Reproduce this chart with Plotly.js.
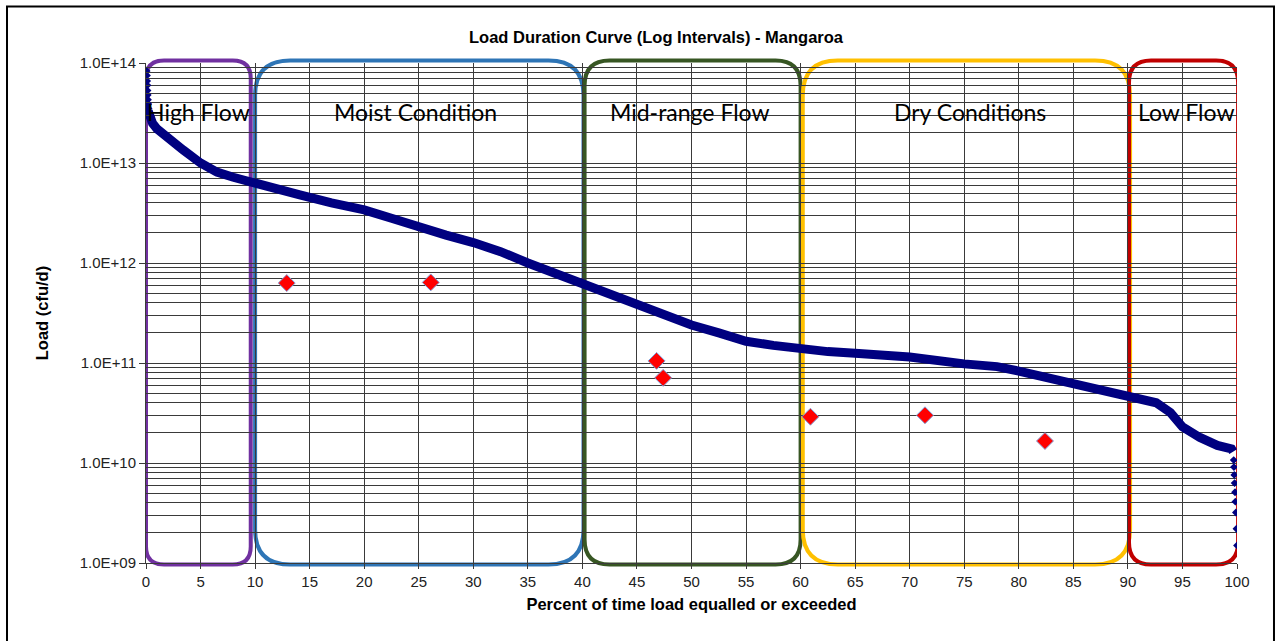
<!DOCTYPE html>
<html>
<head>
<meta charset="utf-8">
<script src="https://cdn.plot.ly/plotly-3.0.1.min.js"></script>
<style>html,body{margin:0;padding:0;background:#fff;}#chart{width:1277px;height:641px;}</style>
</head>
<body>
<div id="chart"></div>
<script>
// Load duration curve (percent exceedance, load cfu/d)
const curveX = [0.2, 0.3, 0.6, 1.0, 1.9, 3.4, 5.0, 6.5, 8.0, 9.8, 12.0, 14.1, 17.0, 20.0, 22.5, 25.0, 27.5, 30.0, 32.5, 35.0, 37.5, 40.0, 42.5, 45.0, 47.5, 50.0, 52.5, 55.0, 57.5, 60.0, 62.5, 65.0, 70.0, 75.0, 78.0, 80.0, 82.0, 85.0, 87.7, 90.0, 92.6, 93.9, 95.0, 96.6, 98.2, 99.5, 99.65];
const curveY = [3.3e13, 3.0e13, 2.5e13, 2.2e13, 1.8e13, 1.35e13, 1.0e13, 8.1e12, 7.2e12, 6.3e12, 5.5e12, 4.8e12, 4.0e12, 3.4e12, 2.8e12, 2.25e12, 1.9e12, 1.6e12, 1.3e12, 1.0e12, 7.9e11, 6.0e11, 4.8e11, 3.8e11, 3.0e11, 2.4e11, 2.0e11, 1.65e11, 1.5e11, 1.38e11, 1.3e11, 1.25e11, 1.15e11, 9.8e10, 9.2e10, 8.3e10, 7.4e10, 6.2e10, 5.2e10, 4.8e10, 4.0e10, 3.2e10, 2.3e10, 1.8e10, 1.5e10, 1.38e10, 1.3e10];
const headX = [0.0, 0.03, 0.05, 0.07, 0.08, 0.1, 0.12, 0.15, 0.18];
const headY = [8.3e13, 7.5e13, 6.6e13, 6.0e13, 5.3e13, 4.8e13, 4.3e13, 3.9e13, 3.5e13];
const tailX = [99.7, 99.72, 99.75, 99.78, 99.82, 99.85, 99.9, 99.95, 100.0];
const tailY = [1.07e10, 9.1e9, 7.6e9, 6.3e9, 5.1e9, 4.1e9, 3.2e9, 2.2e9, 1.5e9];

// Observed samples
const sampleX = [12.9, 26.1, 46.8, 47.4, 60.9, 71.4, 82.4];
const sampleY = [6.3e11, 6.4e11, 1.05e11, 7.1e10, 2.9e10, 3.0e10, 1.66e10];

// Y tick labels
const yTickVals = [1e9, 1e10, 1e11, 1e12, 1e13, 1e14];
const yTickText = ['1.0E+09', '1.0E+10', '1.0E+11', '1.0E+12', '1.0E+13', '1.0E+14'];

// Flow regimes
const zoneNames = ['High Flow', 'Moist Condition', 'Mid-range Flow', 'Dry Conditions', 'Low Flow'];
const zoneStart = [0, 10, 40.2, 60.2, 90.1];
const zoneEnd = [9.6, 40.1, 60, 90.2, 100.1];
const zoneColors = ['#7030A0', '#2E75B6', '#375623', '#FFC000', '#C00000'];
const zoneRadius = [18, 35, 25, 35, 22];
const zoneLabelX = [4.8, 24.7, 49.9, 75.5, 95.3];

const plotW = 1091, plotH = 500;
const minorVals = [];
for (let e = 9; e < 14; e++) for (let m = 2; m <= 9; m++) minorVals.push(m * Math.pow(10, e));

function roundRect(x0, x1, y0, y1, rpx) {
  const rx = rpx / plotW * 100, ry = rpx / plotH;
  return `M ${x0 + rx},${y1} L ${x1 - rx},${y1} Q ${x1},${y1} ${x1},${y1 - ry} L ${x1},${y0 + ry} Q ${x1},${y0} ${x1 - rx},${y0} L ${x0 + rx},${y0} Q ${x0},${y0} ${x0},${y0 + ry} L ${x0},${y1 - ry} Q ${x0},${y1} ${x0 + rx},${y1} Z`;
}

const shapes = zoneNames.map((n, i) => ({
  type: 'path', xref: 'x', yref: 'paper', layer: 'between',
  path: roundRect(zoneStart[i], zoneEnd[i], -0.003, 1.005, zoneRadius[i]),
  line: {color: zoneColors[i], width: 4}
}));
shapes.push({type: 'rect', xref: 'paper', yref: 'paper', x0: -0.1274, x1: 1.0339, y0: -0.2, y1: 1.113,
  line: {color: '#000', width: 2}, layer: 'above'});

const annotations = zoneNames.map((n, i) => ({
  text: n, x: zoneLabelX[i], xref: 'x', y: 0.902, yref: 'paper', showarrow: false,
  xanchor: 'center', yanchor: 'middle', font: {family: 'Lato, Open Sans, sans-serif', size: 23, color: '#000'}
}));

const traces = [
  {x: curveX, y: curveY, mode: 'lines', line: {color: '#000080', width: 9}, hoverinfo: 'skip'},
  {x: headX, y: headY, mode: 'markers', marker: {symbol: 'diamond', size: 7, color: '#000080'}},
  {x: tailX, y: tailY, mode: 'markers', marker: {symbol: 'diamond', size: 6, color: '#000080'}},
  {x: sampleX, y: sampleY, mode: 'markers', marker: {symbol: 'diamond', size: 13, color: '#FF0000', line: {color: '#7F9FD8', width: 1}}}
];

const layout = {
  width: 1277, height: 641,
  margin: {l: 146, r: 40, t: 63, b: 78},
  paper_bgcolor: '#fff', plot_bgcolor: '#fff',
  showlegend: false,
  font: {family: 'Liberation Sans, Arial, sans-serif', size: 15, color: '#222'},
  title: {text: '<b>Load Duration Curve (Log Intervals) - Mangaroa</b>', x: 656 / 1277, xref: 'container', xanchor: 'center',
    y: 1 - 37 / 641, yref: 'container', yanchor: 'middle', font: {size: 16.5, color: '#000'}},
  xaxis: {
    range: [0, 100], dtick: 5, tick0: 0, showgrid: true, gridcolor: '#3a3a3a', gridwidth: 1,
    zeroline: false, showline: true, linecolor: '#3a3a3a', ticks: 'outside', ticklen: 5, tickcolor: '#3a3a3a',
    tickfont: {size: 15, color: '#222'},
    title: {text: '<b>Percent of time load equalled or exceeded</b>', font: {size: 16.5, color: '#000'}, standoff: 9}
  },
  yaxis: {
    type: 'log', range: [9, 14], tickmode: 'array', tickvals: yTickVals, ticktext: yTickText,
    showgrid: true, gridcolor: '#3a3a3a', gridwidth: 1, zeroline: false, showline: true, linecolor: '#3a3a3a',
    ticks: 'outside', ticklen: 6, tickcolor: '#3a3a3a', tickfont: {size: 15, color: '#222'},
    minor: {tickmode: 'array', tickvals: minorVals, showgrid: true, gridcolor: '#3a3a3a', gridwidth: 1, ticks: 'inside', ticklen: 4},
    title: {text: '<b>Load (cfu/d)</b>', font: {size: 16.5, color: '#000'}, standoff: 26}
  },
  shapes: shapes,
  annotations: annotations
};

Plotly.newPlot('chart', traces, layout, {displayModeBar: false, staticPlot: true});
</script>
</body>
</html>
